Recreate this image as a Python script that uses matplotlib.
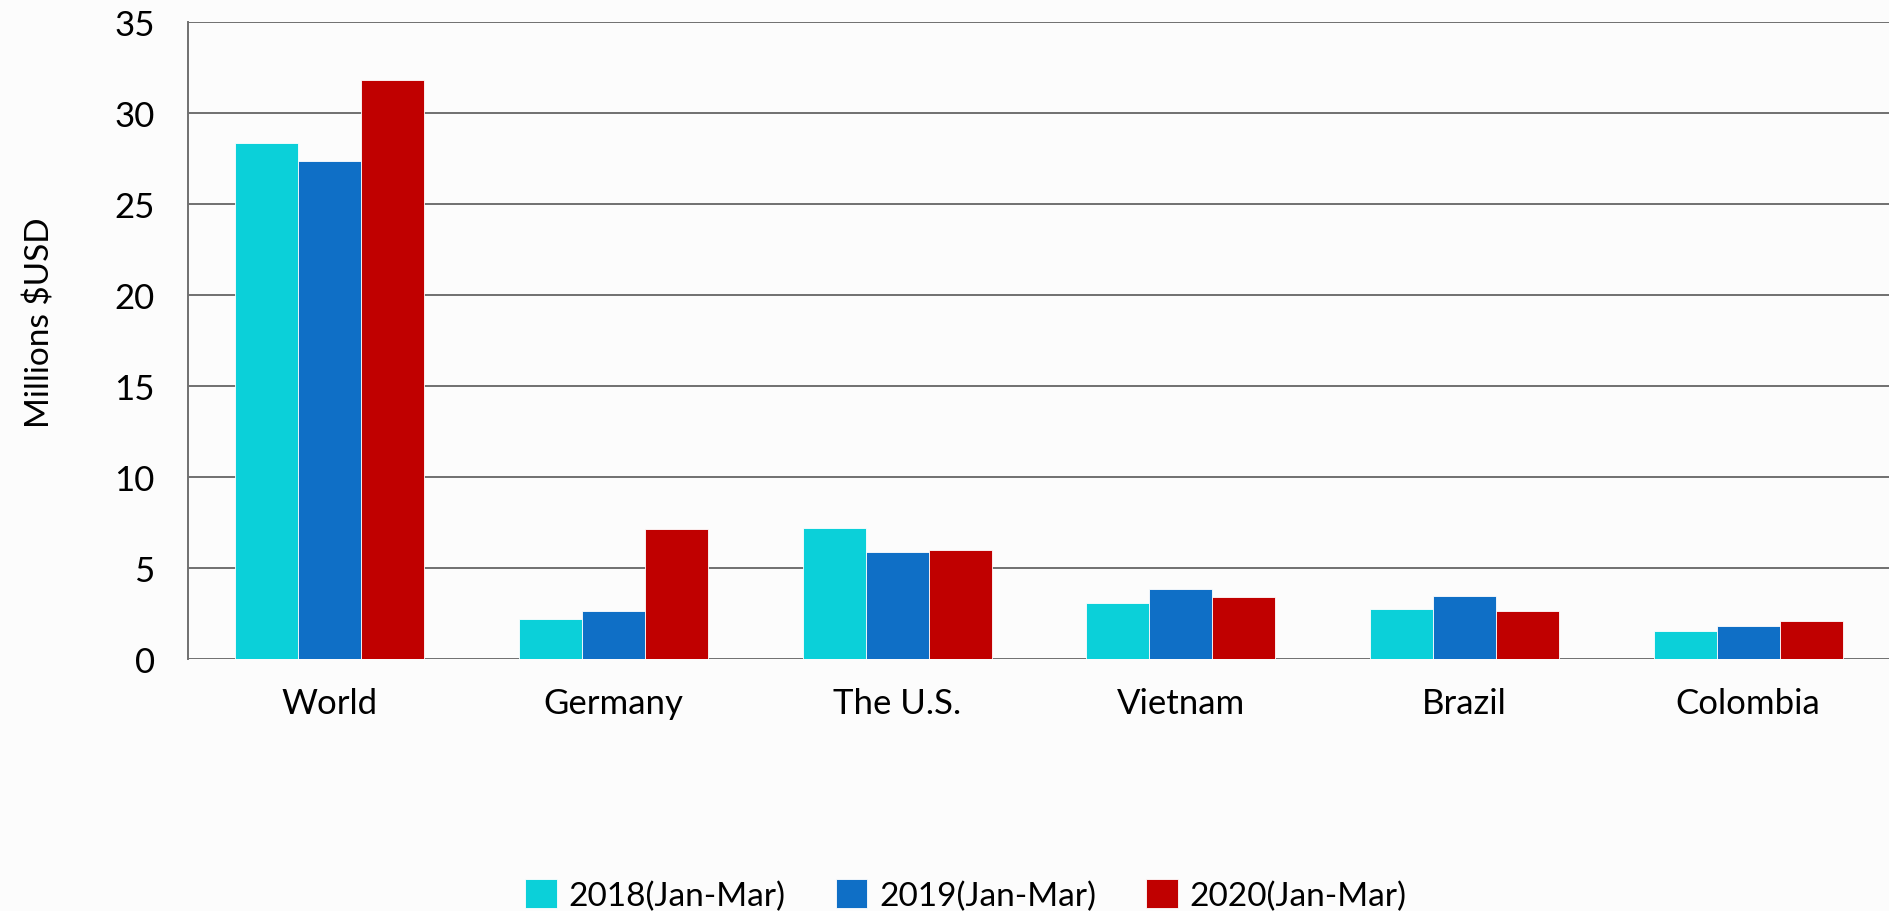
import matplotlib
matplotlib.use("Agg")
import matplotlib.pyplot as plt
import numpy as np

categories = ["World", "Germany", "The U.S.", "Vietnam", "Brazil", "Colombia"]
series_names = ["2018(Jan-Mar)", "2019(Jan-Mar)", "2020(Jan-Mar)"]
v2018 = [28.35, 2.18, 7.2, 3.07, 2.76, 1.53]
v2019 = [27.34, 2.64, 5.9, 3.87, 3.46, 1.80]
v2020 = [31.8, 7.12, 5.99, 3.43, 2.65, 2.09]
colors = ["#0BD0D9", "#0F6FC6", "#C00000"]
yticks = [0, 5, 10, 15, 20, 25, 30, 35]

plt.rcParams["font.family"] = ["Lato", "DejaVu Sans"]

fig = plt.figure(figsize=(18.9, 9.12), dpi=100, facecolor="#fcfcfc")
ax = fig.add_axes([188 / 1890, 1 - 660 / 912, 1 - 188 / 1890, (660 - 23) / 912])
ax.set_facecolor("none")

x = np.arange(len(categories))
w = 0.222
for i, (vals, name, c) in enumerate(zip([v2018, v2019, v2020], series_names, colors)):
    ax.bar(x + (i - 1) * w, vals, width=w, color=c, label=name,
           edgecolor="#ffffff", linewidth=0.6, zorder=3)

ax.set_xlim(-0.5, len(categories) - 0.5)
ax.set_ylim(0, 35)
ax.set_yticks(yticks)
ax.set_yticklabels([str(t) for t in yticks], fontsize=25)
ax.set_xticks(x)
ax.set_xticklabels(categories, fontsize=25)
ax.tick_params(axis="y", length=0, pad=24)
ax.tick_params(axis="x", length=0, pad=20)

ax.grid(axis="y", color="#707070", linewidth=1.4, zorder=1)
for s in ["top", "right", "bottom"]:
    ax.spines[s].set_visible(False)
ax.spines["left"].set_color("#707070")
ax.spines["left"].set_linewidth(1.4)

ax.set_ylabel("Millions $USD", fontsize=24)
ax.yaxis.set_label_coords(-0.078, 0.53)

handles, labels = ax.get_legend_handles_labels()
fig.legend(handles, labels, loc="center", ncol=3,
           bbox_to_anchor=(966 / 1890, 1 - 896 / 912), frameon=False,
           fontsize=24, handlelength=0.95, handleheight=0.95,
           handletextpad=0.35, columnspacing=1.5, borderaxespad=0)

fig.savefig("out.png", dpi=100, facecolor=fig.get_facecolor())
